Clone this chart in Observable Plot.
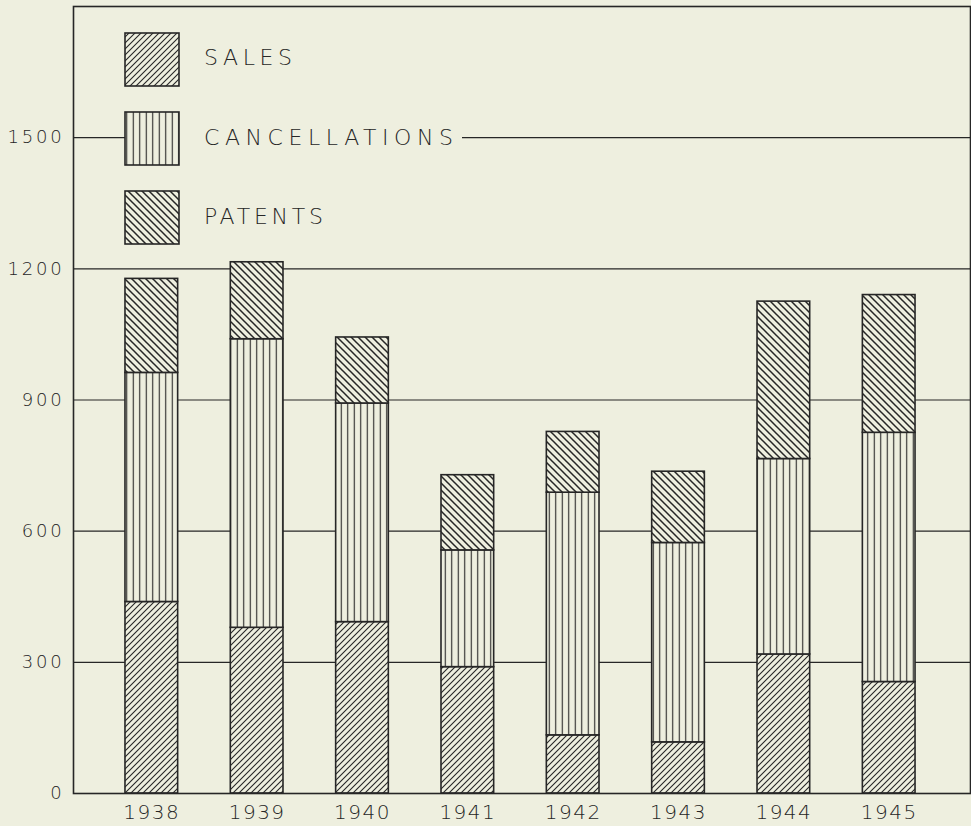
<!DOCTYPE html>
<html>
<head>
<meta charset="utf-8">
<script src="https://cdn.jsdelivr.net/npm/d3@7"></script>
<script src="https://cdn.jsdelivr.net/npm/@observablehq/plot@0.6"></script>
<style>
  html, body { margin: 0; padding: 0; background: #eeefdf; }
  #chart svg { display: block; background: #eeefdf; }
  #chart svg text { font-weight: 200; }
</style>
</head>
<body>
<div id="chart"></div>
<script>
// ---- data ----
const years = ["1938", "1939", "1940", "1941", "1942", "1943", "1944", "1945"];
const sales = [438, 379, 392, 289, 133, 117, 318, 255];
const cancellations = [524, 660, 500, 267, 555, 456, 447, 570];
const patents = [215, 176, 151, 172, 139, 163, 360, 315];
const seriesNames = ["SALES", "CANCELLATIONS", "PATENTS"];
const yTicks = [0, 300, 600, 900, 1200, 1500];
const gridValues = [300, 600, 900, 1200, 1500];

// ---- layout / style ----
const ink = "#262626";
const bg = "#eeefdf";
const patternIds = {SALES: "pat-sales", CANCELLATIONS: "pat-canc", PATENTS: "pat-pat"};
const legendTextWidth = {SALES: 88, CANCELLATIONS: 249, PATENTS: 119};
const legendCenterY = [57, 137, 216];

const seriesArrays = [sales, cancellations, patents];
const rows = [];
years.forEach((yr, i) => {
  seriesNames.forEach((s, k) => {
    rows.push({year: yr, series: s, order: k, value: seriesArrays[k][i]});
  });
});

const font = "'DejaVu Sans', sans-serif";

const chart = Plot.plot({
  width: 971,
  height: 826,
  marginLeft: 73,
  marginRight: 1,
  marginTop: 6,
  marginBottom: 33,
  style: {background: bg, fontFamily: font, color: ink},
  x: {domain: years, paddingInner: 0.5, paddingOuter: 0.5076, align: 0.486, round: false, label: null},
  y: {domain: [0, 1800], label: null},
  color: {type: "identity"},
  marks: [
    Plot.ruleY(gridValues, {stroke: ink, strokeWidth: 1.2}),
    Plot.barY(rows, Plot.stackY({
      x: "year",
      y: "value",
      z: "series",
      order: "order",
      fill: d => `url(#${patternIds[d.series]})`,
      stroke: ink,
      strokeWidth: 1.6
    })),
    Plot.frame({stroke: ink, strokeWidth: 1.6}),
    Plot.axisY(yTicks, {tickSize: 0, tickPadding: 9, fontSize: 18, tickFormat: d => String(d), label: null}),
    Plot.axisX({tickSize: 0, tickPadding: 11, fontSize: 20, label: null})
  ]
});

document.getElementById("chart").appendChild(chart);

// ---- patterns ----
const svg = d3.select(chart);
const defs = svg.insert("defs", ":first-child");

function addPattern(id, w, h, d, sw) {
  const p = defs.append("pattern")
    .attr("id", id)
    .attr("patternUnits", "userSpaceOnUse")
    .attr("width", w).attr("height", h);
  p.append("rect").attr("width", w).attr("height", h).attr("fill", bg);
  p.append("path").attr("d", d).attr("stroke", ink).attr("stroke-width", sw).attr("fill", "none");
}
addPattern("pat-sales", 6, 6, "M-1,1 L1,-1 M0,6 L6,0 M5,7 L7,5", 1.1);
addPattern("pat-canc", 6.5, 10, "M3.25,0 L3.25,10", 1.1);
addPattern("pat-pat", 7, 7, "M-1,-1 L8,8 M-1,6 L1,8 M6,-1 L8,1", 1.5);

// axis text letter spacing
svg.selectAll("g[aria-label='y-axis tick label'] text").style("letter-spacing", "2.8px");
svg.selectAll("g[aria-label='x-axis tick label'] text").style("letter-spacing", "1.5px");

// ---- legend ----
const legend = svg.append("g").attr("aria-label", "legend");
const swX = 125, swW = 54, swH = 53, swY0 = 33, swStep = 79;
seriesNames.forEach((s, k) => {
  const y0 = swY0 + k * swStep;
  legend.append("rect")
    .attr("x", swX + swW).attr("y", y0 + swH / 2 - 13)
    .attr("width", legendTextWidth[s] + 34).attr("height", 26)
    .attr("fill", bg);
  legend.append("rect")
    .attr("x", swX).attr("y", y0).attr("width", swW).attr("height", swH)
    .attr("fill", `url(#${patternIds[s]})`)
    .attr("stroke", ink).attr("stroke-width", 1.6);
  legend.append("text")
    .attr("x", 204).attr("y", legendCenterY[k])
    .attr("dy", "0.36em")
    .attr("text-anchor", "start")
    .attr("textLength", legendTextWidth[s])
    .attr("lengthAdjust", "spacing")
    .attr("fill", ink)
    .style("font-family", font)
    .style("font-size", "22px")
    .text(s);
});
</script>
</body>
</html>
